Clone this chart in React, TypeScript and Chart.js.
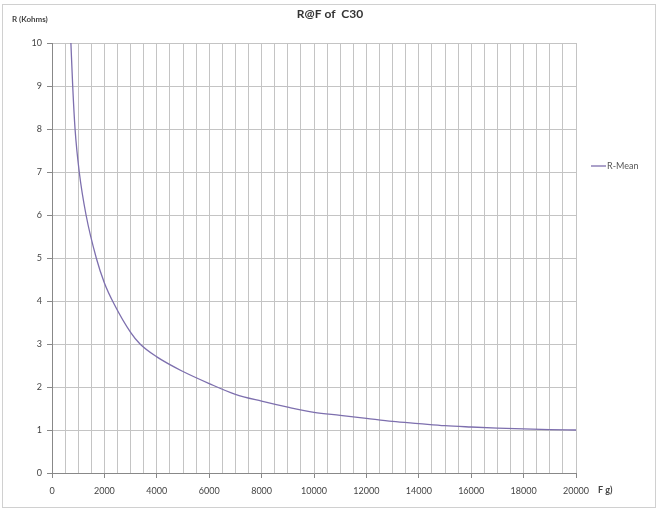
import React, { useEffect, useRef } from "react";
import { Chart, registerables } from "chart.js";

Chart.register(...registerables);

const chartTitle = "R@F of  C30";
const yTitle = "R (Kohms)";
const xTitle = "F g)";
const seriesName = "R-Mean";

const forceG = [720, 790, 880, 1040, 1300, 1690, 2000, 2370, 3000, 3360, 4000, 5000, 6000, 7000, 8000, 9000, 10000, 11000, 12000, 13000, 14000, 15000, 16000, 17000, 18000, 19000, 20000];
const rMean = [10.02, 9.0, 8.0, 7.0, 6.0, 5.0, 4.42, 3.93, 3.27, 3.0, 2.7, 2.36, 2.08, 1.83, 1.67, 1.53, 1.41, 1.34, 1.27, 1.2, 1.15, 1.1, 1.07, 1.045, 1.025, 1.01, 1.0];

const FONT = "Lato, 'Open Sans', 'DejaVu Sans', sans-serif";
const LINE_COLOR = "#7d6fae";

export default function App() {
  const ref = useRef<HTMLCanvasElement | null>(null);

  useEffect(() => {
    document.body.style.margin = "0";
    const canvas = ref.current;
    if (!canvas) return;

    const overlay = {
      id: "overlay",
      afterDraw(chart: any) {
        const ctx = chart.ctx as CanvasRenderingContext2D;
        ctx.save();
        ctx.strokeStyle = "#d0d0d0";
        ctx.lineWidth = 1;
        ctx.strokeRect(2.5, 4.5, 653, 503);
        ctx.fillStyle = "#333";
        ctx.font = `bold 12px ${FONT}`;
        ctx.textAlign = "center";
        ctx.textBaseline = "middle";
        ctx.fillText(chartTitle, 330, 14);
        ctx.font = `bold 8px ${FONT}`;
        ctx.textAlign = "left";
        ctx.fillStyle = "#444";
        ctx.fillText(yTitle, 12, 19);
        ctx.font = `bold 9px ${FONT}`;
        ctx.fillText(xTitle, 598, 490);
        ctx.strokeStyle = LINE_COLOR;
        ctx.lineWidth = 1.3;
        ctx.beginPath();
        ctx.moveTo(591, 166);
        ctx.lineTo(606, 166);
        ctx.stroke();
        ctx.fillStyle = "#555";
        ctx.font = `9px ${FONT}`;
        ctx.fillText(seriesName, 607, 166);
        ctx.restore();
      },
    };

    const chart = new Chart(canvas, {
      type: "line",
      data: {
        datasets: [
          {
            label: seriesName,
            data: forceG.map((f, i) => ({ x: f, y: rMean[i] })),
            borderColor: LINE_COLOR,
            borderWidth: 1.3,
            pointRadius: 0,
            cubicInterpolationMode: "monotone",
            fill: false,
          },
        ],
      },
      options: {
        animation: false,
        responsive: false,
        devicePixelRatio: 1,
        layout: { padding: { left: 0, right: 82, top: 43, bottom: 0 } },
        plugins: { legend: { display: false }, title: { display: false }, tooltip: { enabled: false } },
        scales: {
          x: {
            type: "linear",
            min: 0,
            max: 20000,
            afterFit: (s: any) => {
              s.height = 39;
            },
            grid: {
              color: "#c4c4c4",
              lineWidth: 1,
              tickLength: 5,
              tickColor: (c: any) => (c.tick && c.tick.value % 2000 === 0 ? "#888" : "rgba(0,0,0,0)"),
            },
            border: { color: "#888", width: 1 },
            ticks: {
              stepSize: 500,
              maxTicksLimit: 100,
              autoSkip: false,
              maxRotation: 0,
              padding: 8,
              color: "#444",
              font: { family: FONT, size: 9 },
              callback: (v: any) => (Number(v) % 2000 === 0 ? String(v) : ""),
            },
          },
          y: {
            type: "linear",
            min: 0,
            max: 10,
            afterFit: (s: any) => {
              s.width = 52;
            },
            grid: { color: "#c4c4c4", lineWidth: 1, tickLength: 5, tickColor: "#888" },
            border: { color: "#888", width: 1 },
            ticks: {
              stepSize: 1,
              padding: 5,
              color: "#444",
              font: { family: FONT, size: 9 },
            },
          },
        },
      },
      plugins: [overlay],
    } as any);

    return () => chart.destroy();
  }, []);

  return (
    <div style={{ width: 658, height: 512, background: "#fff" }}>
      <canvas ref={ref} width={658} height={512} style={{ display: "block" }} />
    </div>
  );
}
